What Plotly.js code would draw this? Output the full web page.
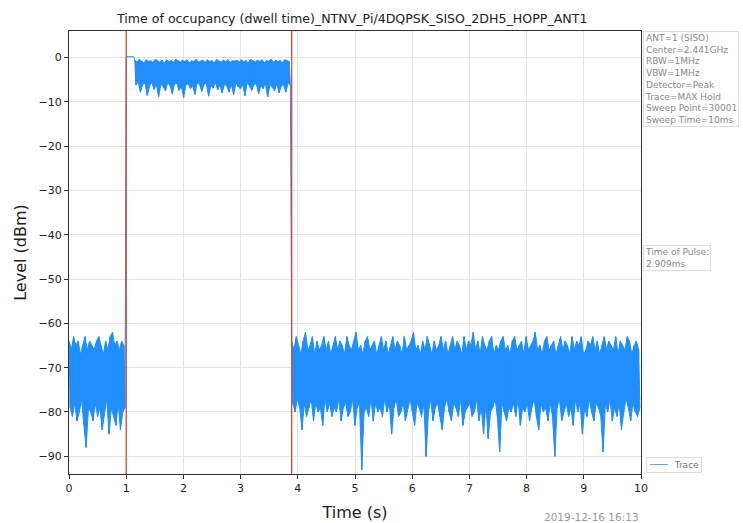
<!DOCTYPE html>
<html><head><meta charset="utf-8">
<script src="https://cdn.plot.ly/plotly-3.0.1.min.js"></script>
<style>html,body{margin:0;padding:0;background:#fff;}#chart{width:743px;height:523px;}</style>
</head><body><div id="chart"></div>
<script>
// ---- text ----
const titleText = "Time of occupancy (dwell time)_NTNV_Pi/4DQPSK_SISO_2DH5_HOPP_ANT1";
const xTitle = "Time (s)";
const yTitle = "Level (dBm)";
const infoLines = ["ANT=1 (SISO)","Center=2.441GHz","RBW=1MHz","VBW=1MHz","Detector=Peak","Trace=MAX Hold","Sweep Point=30001","Sweep Time=10ms"];
const pulseInfo = ["Time of Pulse:","2.909ms"];
const stampText = "2019-12-16 16:13";
const seriesName = "Trace";

// ---- axes ----
const xTickVals = [0,1,2,3,4,5,6,7,8,9,10];
const yTickVals = [0,-10,-20,-30,-40,-50,-60,-70,-80,-90];
const xRange = [0,10];
const yRange = [-94,6];

// ---- markers (s) ----
const markerTimes = [1.0, 3.893];

// ---- segment bounds (s) ----
const noiseASpan = [0, 1.0];
const stepSpan = [1.0, 1.13];
const pulseSpan = [1.15, 3.89];
const noiseBSpan = [3.893, 10];

// ---- read values (dBm): peak / trough per sample pair ----
const noiseAHigh = [-64,-66,-63,-65,-64,-67,-65,-63,-66,-64,-65,-66,-64,-63,-65,-67,-64,-66,-63,-62,-65,-64,-66,-64,-65];
const noiseALow  = [-79,-81,-78,-82,-80,-77,-83,-88,-79,-80,-82,-78,-81,-79,-84,-80,-77,-85,-79,-81,-83,-78,-84,-80,-79];

const stepLevel = [0.2, 0.2];

const pulseHigh = [-0.6,-1.0,-0.4,-0.8,-1.2,-0.5,-0.9,-0.7,-1.1,-0.4,-0.8,-1.0,-0.6,-1.3,-0.5,-0.9,-0.7,-1.1,-0.4,-0.8,-1.0,-0.6,-0.9,
  -0.5,-1.2,-0.7,-0.9,-0.4,-1.0,-0.8,-0.6,-1.1,-0.5,-0.9,-0.7,-1.2,-0.4,-0.8,-1.0,-0.6,-0.9,-0.5,-1.1,-0.7,-0.8,-0.6,
  -1.0,-0.5,-0.9,-0.7,-1.2,-0.4,-0.8,-1.0,-0.6,-0.9,-0.5,-1.1,-0.7,-0.8,-0.4,-1.0,-0.6,-0.9,-0.7,-1.2,-0.5,-0.8,-0.9];
const pulseLow = [-6.2,-5.5,-7.8,-6.0,-5.8,-8.5,-6.4,-5.6,-7.2,-6.1,-8.8,-5.9,-6.6,-7.5,-5.7,-6.3,-8.1,-6.0,-5.8,-7.4,-6.5,-9.0,-6.2,
  -5.9,-7.0,-6.4,-8.3,-5.7,-6.1,-7.6,-6.0,-5.8,-8.7,-6.3,-6.9,-5.6,-7.3,-6.2,-8.0,-5.9,-6.5,-7.7,-6.0,-8.4,-5.8,-6.6,
  -7.1,-6.0,-8.6,-5.7,-6.4,-7.4,-6.1,-5.9,-8.2,-6.3,-7.0,-5.8,-8.9,-6.2,-6.6,-7.5,-5.9,-8.0,-6.4,-6.1,-7.8,-5.7,-6.3];

const noiseBHigh = [-64,-66,-63,-65,-67,-64,-62,-66,-65,-63,-67,-64,-66,-65,-63,-66,-64,-67,-65,
  -63,-66,-64,-65,-67,-63,-65,-66,-64,-62,-66,-65,-67,-64,-63,-66,-65,-64,-67,
  -65,-63,-66,-64,-67,-65,-63,-66,-64,-65,-67,-63,-66,-65,-64,-62,-66,-65,-67,
  -64,-66,-63,-65,-67,-64,-66,-65,-63,-66,-64,-67,-65,-63,-66,-64,-65,-67,-63,
  -66,-64,-65,-62,-66,-64,-67,-63,-65,-66,-64,-63,-67,-65,-66,-64,-63,-66,-65,
  -67,-64,-63,-66,-65,-64,-67,-63,-66,-65,-64,-62,-66,-65,-67,-64,-63,-66,-65,
  -64,-67,-65,-63,-66,-64,-65,-67,-63,-66,-64,-65,-63,-67,-66,-64,-65,-63,-66,
  -64,-67,-65,-63,-66,-64,-65,-66,-63,-67,-64,-65,-66,-63,-64,-67,-65,-64,-66];
const noiseBLow = [-78,-80,-77,-79,-84,-78,-81,-79,-77,-82,-78,-80,-79,-83,-77,-80,-78,-81,-79,
  -80,-77,-82,-79,-78,-81,-80,-77,-83,-79,-78,-93,-80,-79,-81,-77,-82,-78,-80,
  -79,-81,-77,-80,-78,-85,-79,-77,-81,-80,-78,-82,-79,-77,-80,-83,-78,-79,-81,
  -78,-90,-80,-77,-82,-79,-78,-81,-84,-79,-77,-80,-82,-78,-79,-81,-77,-83,-80,
  -79,-78,-81,-80,-77,-82,-79,-85,-78,-86,-80,-79,-77,-81,-89,-78,-80,-82,-79,
  -80,-78,-81,-77,-83,-79,-80,-78,-82,-79,-77,-81,-84,-78,-80,-79,-82,-78,-81,
  -90,-79,-77,-82,-80,-78,-81,-79,-83,-77,-80,-78,-85,-79,-81,-77,-80,-82,-78,
  -79,-81,-89,-78,-80,-77,-82,-79,-81,-78,-84,-80,-77,-79,-82,-78,-80,-81,-79];

const BLUE = '#1e8ffc';
const FONT = "DejaVu Sans, sans-serif";

// ---- assemble the sweep (zig-zag between read peaks/troughs) ----
const xs = [], ys = [];
function pairTimes(span, n){
  const dt = (span[1]-span[0])/n, hiT = [], loT = [];
  for(let i=0;i<n;i++){ hiT.push(span[0]+i*dt); loT.push(span[0]+(i+0.5)*dt); }
  return {hiT, loT};
}
function addPairs(span, hi, lo){
  const t = pairTimes(span, hi.length);
  for(let i=0;i<hi.length;i++){ xs.push(t.hiT[i]); ys.push(hi[i]); xs.push(t.loT[i]); ys.push(lo[i]); }
}
addPairs(noiseASpan, noiseAHigh, noiseALow);
xs.push(stepSpan[0]); ys.push(stepLevel[0]);
xs.push(stepSpan[1]); ys.push(stepLevel[1]);
addPairs(pulseSpan, pulseHigh, pulseLow);
addPairs(noiseBSpan, noiseBHigh, noiseBLow);

const traces = [];
// envelope fills (same read values) so the dense sweep reads as a solid band
function envelope(span, hi, lo){
  const t = pairTimes(span, hi.length);
  traces.push({x: t.hiT, y: hi, type: 'scatter', mode: 'lines', line: {color: BLUE, width: 1},
               showlegend: false, hoverinfo: 'skip'});
  traces.push({x: t.loT, y: lo, type: 'scatter', mode: 'lines', line: {color: BLUE, width: 1},
               fill: 'tonexty', fillcolor: BLUE, showlegend: false, hoverinfo: 'skip'});
}
envelope(noiseASpan, noiseAHigh, noiseALow);
envelope(pulseSpan, pulseHigh, pulseLow);
envelope(noiseBSpan, noiseBHigh, noiseBLow);
traces.push({x: xs, y: ys, type: 'scatter', mode: 'lines', name: seriesName,
             line: {color: BLUE, width: 1}, showlegend: false, hoverinfo: 'skip'});

const shapes = markerTimes.map(t => ({
  type: 'line', xref: 'x', yref: 'paper', x0: t, x1: t, y0: 0, y1: 1,
  line: {color: '#d8492f', width: 1.3}, layer: 'above'
}));
// legend sample line (custom compact legend)
shapes.push({type: 'line', xref: 'paper', yref: 'paper', x0: 1.0157, x1: 1.0472, y0: 0.0214, y1: 0.0214,
             line: {color: '#5aa8f5', width: 1}, layer: 'above'});

const layout = {
  width: 743, height: 523,
  margin: {l: 69, r: 102, t: 31, b: 49},
  paper_bgcolor: '#fff', plot_bgcolor: '#fff',
  font: {family: FONT, color: '#222', size: 11},
  title: {text: titleText, x: 0.474, xanchor: 'center', y: 0.965, yanchor: 'middle',
          font: {family: FONT, size: 12.6, color: '#222'}},
  xaxis: {range: xRange, tickvals: xTickVals, showgrid: true, gridcolor: '#e3e3e3', gridwidth: 1,
          zeroline: false, showline: true, linecolor: '#333', linewidth: 1, mirror: true,
          ticks: 'outside', ticklen: 4, tickcolor: '#333', tickfont: {size: 11, color: '#222'},
          title: {text: xTitle, font: {size: 16, color: '#222'}, standoff: 12}},
  yaxis: {range: yRange, tickvals: yTickVals, showgrid: true, gridcolor: '#e3e3e3', gridwidth: 1,
          zeroline: false, showline: true, linecolor: '#333', linewidth: 1, mirror: true,
          ticks: 'outside', ticklen: 4, tickcolor: '#333', tickfont: {size: 11, color: '#222'},
          title: {text: yTitle, font: {size: 16, color: '#222'}, standoff: 7}},
  shapes: shapes,
  showlegend: false,
  annotations: [
    {xref: 'paper', yref: 'paper', x: 1, y: 1, xanchor: 'left', yanchor: 'top', xshift: 2,
     text: infoLines.join('<br>'), align: 'left', showarrow: false,
     font: {size: 9, color: '#888', family: FONT}, bgcolor: '#fff', bordercolor: '#ddd', borderwidth: 1, borderpad: 1},
    {xref: 'paper', yref: 'paper', x: 1, y: 0.517, xanchor: 'left', yanchor: 'top', xshift: 2,
     text: pulseInfo.join('<br>'), align: 'left', showarrow: false,
     font: {size: 9, color: '#888', family: FONT}, bgcolor: '#fff', bordercolor: '#ddd', borderwidth: 1, borderpad: 1},
    {xref: 'paper', yref: 'paper', x: 1, y: 0.0214, xanchor: 'left', yanchor: 'middle', xshift: 5,
     text: '\u00a0'.repeat(9) + seriesName, align: 'left', showarrow: false,
     font: {size: 9, color: '#777', family: FONT}, bgcolor: 'rgba(0,0,0,0)', bordercolor: '#ddd', borderwidth: 1, borderpad: 2},
    {xref: 'paper', yref: 'paper', x: 1, y: -0.097, xanchor: 'right', yanchor: 'middle',
     text: stampText, showarrow: false, font: {size: 10.5, color: '#999', family: FONT}}
  ]
};

Plotly.newPlot('chart', traces, layout, {displayModeBar: false, staticPlot: true});
</script></body></html>
